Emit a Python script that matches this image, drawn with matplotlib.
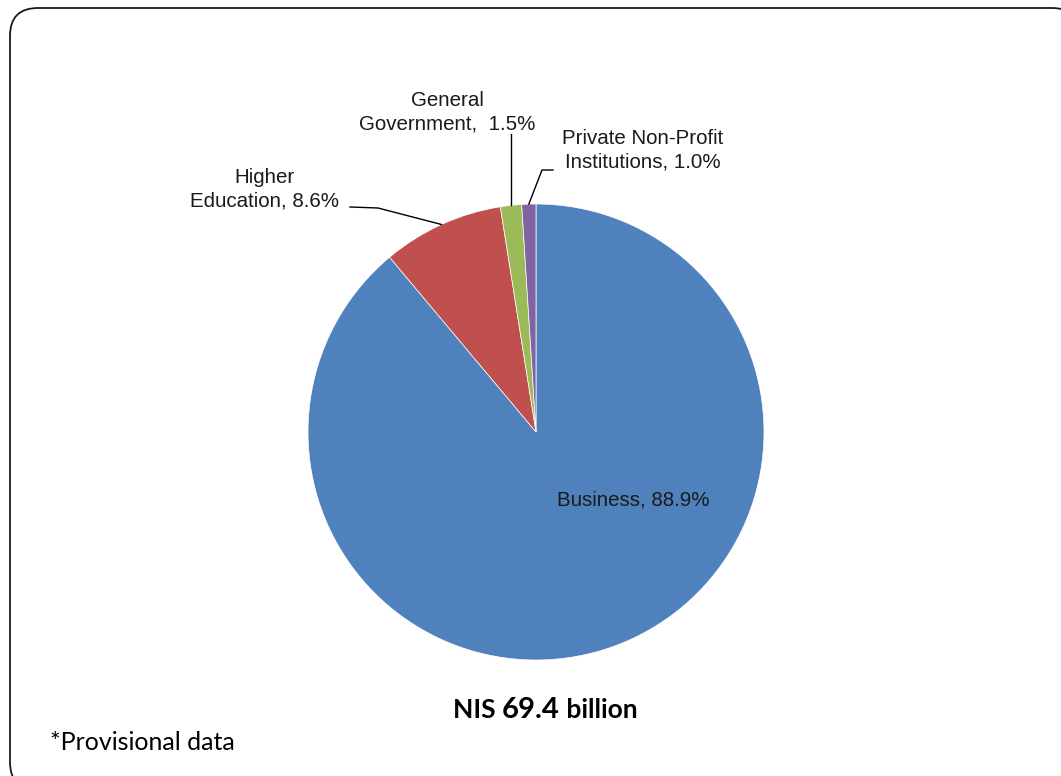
import numpy as np
import matplotlib.pyplot as plt
from matplotlib.patches import FancyBboxPatch

# sectores de gasto en I+D
sectores = ["Business", "Higher\nEducation", "General\nGovernment", "Private Non-Profit\nInstitutions"]
porcentajes = [88.9, 8.6, 1.5, 1.0]
colores = ["#4F81BD", "#C0504D", "#9BBB59", "#8064A2"]
etiquetas = ["Business, 88.9%", "Higher\nEducation, 8.6%", "General\nGovernment,  1.5%",
             "Private Non-Profit\nInstitutions, 1.0%"]
total_txt = ["NIS ", "69.4", " billion"]
nota = "*Provisional data"

W, H = 1061, 776
fig = plt.figure(figsize=(W / 100, H / 100), dpi=100)
ax = fig.add_axes([0, 0, 1, 1])

def Y(y):
    # de coordenada de pixel (desde arriba) a coordenada del eje
    return H - y

# marco redondeado
marco = FancyBboxPatch((10, Y(790)), 1070, 782, boxstyle="round,pad=0,rounding_size=28",
                       fc="white", ec="#1a1a1a", lw=1.3, zorder=0)
ax.add_patch(marco)

cx, cy, r = 536, Y(432), 228
wedges, _ = ax.pie(porcentajes, colors=colores, startangle=90, counterclock=False,
                   center=(cx, cy), radius=r, frame=True,
                   wedgeprops=dict(edgecolor="white", linewidth=0.5))
ax.set_xlim(0, W)
ax.set_ylim(0, H)
ax.axis("off")

fuente = "Liberation Sans"
fs = 14.8
col_txt = "#1a1a1a"
ls = 1.32

def borde(w):
    ang = np.deg2rad((w.theta1 + w.theta2) / 2)
    return cx + r * np.cos(ang), cy + r * np.sin(ang)

# Business dentro
ax.text(633, Y(500), etiquetas[0], ha="center", va="center", fontsize=fs, family=fuente, color=col_txt)

# Higher Education
px, py = borde(wedges[1])
ax.text(265, Y(189), etiquetas[1], ha="center", va="center", fontsize=fs, family=fuente,
        color=col_txt, linespacing=ls)
ax.plot([350, 378, px], [Y(207), Y(208), py], color="black", lw=1)

# General Government
px, py = borde(wedges[2])
ax.text(447, Y(112), etiquetas[2], ha="center", va="center", fontsize=fs, family=fuente,
        color=col_txt, linespacing=ls)
ax.plot([px, px], [Y(134), py], color="black", lw=1)

# Private Non-Profit
px, py = borde(wedges[3])
ax.text(643, Y(150), etiquetas[3], ha="center", va="center", fontsize=fs, family=fuente,
        color=col_txt, linespacing=ls)
ax.plot([553, 542, px], [Y(170), Y(170), py], color="black", lw=1)

# total, con el numero un poco mas grande
fig.canvas.draw()
rend = fig.canvas.get_renderer()
partes = []
tamanos = [19, 21, 19]
for t, s in zip(total_txt, tamanos):
    partes.append(ax.text(0, Y(718), t, ha="left", va="baseline", fontsize=s,
                          family="Lato", fontweight="bold", color="black"))
anchos = [p.get_window_extent(rend).width for p in partes]
x0 = 545 - sum(anchos) / 2
for p, a in zip(partes, anchos):
    p.set_x(x0)
    x0 += a

ax.text(50, Y(750), nota, ha="left", va="baseline", fontsize=18, family="Lato", color="black")

fig.savefig("out.png", dpi=100)
